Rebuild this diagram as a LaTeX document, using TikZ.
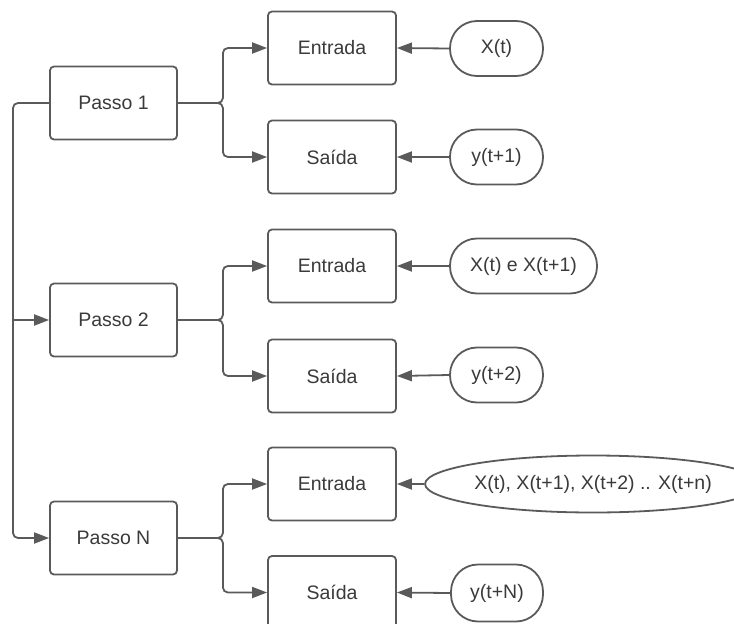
\documentclass[tikz,border=0pt]{standalone}
\usepackage{fontspec}
\setmainfont{Liberation Sans}
\usetikzlibrary{arrows.meta,shapes.geometric}
\definecolor{ln}{HTML}{5A5A5A}
\definecolor{tx}{HTML}{3A3A3A}
\begin{document}
\begin{tikzpicture}[x=1pt,y=-1pt,
  every node/.style={font=\fontsize{19.5}{22}\selectfont, text=tx},
  box/.style={draw=ln, line width=1.8pt, rounded corners=4pt, minimum width=127pt, minimum height=73pt, inner sep=0pt},
  pill/.style={draw=ln, line width=1.8pt, rounded corners=27pt, minimum height=55pt, inner sep=0pt},
  oval/.style={draw=ln, line width=1.8pt, ellipse, minimum width=282pt, minimum height=57pt, inner sep=0pt},
  conn/.style={draw=ln, line width=1.8pt, rounded corners=5pt},
  arr/.style={conn, -{Triangle[length=15pt,width=11pt]}}
]
\useasboundingbox (0,0) rectangle (734,624);
% step boxes
\node[box] (p1) at (113.5,103) {Passo 1};
\node[box] (p2) at (113.5,320) {Passo 2};
\node[box] (pN) at (113.5,538) {Passo N};
% entrada / saida boxes
\node[box, minimum width=128pt] (e1) at (332,48) {Entrada};
\node[box, minimum width=128pt] (s1) at (332,157) {Saída};
\node[box, minimum width=128pt] (e2) at (332,266) {Entrada};
\node[box, minimum width=128pt] (s2) at (332,376) {Saída};
\node[box, minimum width=128pt] (eN) at (332,484) {Entrada};
\node[box, minimum width=128pt] (sN) at (332,592.5) {Saída};
% inputs
\node[pill, minimum width=93pt] (x1) at (496.5,48.5) {X(t)};
\node[pill, minimum width=93pt] (y1) at (496.5,157) {y(t+1)};
\node[pill, minimum width=147pt] (x2) at (523.5,266) {X(t) e X(t+1)};
\node[pill, minimum width=93pt] (y2) at (496.5,375) {y(t+2)};
\node[oval] (xN) at (593,484) {X(t), X(t+1), X(t+2) .. X(t+n)};
\node[pill, minimum width=92pt, minimum height=57pt] (yN) at (497,593) {y(t+N)};
% left trunk
\coordinate (tr) at (13,320);
\draw[arr] (p1.west) -- (13,103) -- (13,538) -- (pN.west);
\draw[arr] (tr) -- (p2.west);
% branches
\foreach \p/\e/\s in {p1/e1/s1, p2/e2/s2, pN/eN/sN}{
  \draw[arr] (\p.east) -- ++(45,0) |- (\e.west);
  \draw[arr] (\p.east) -- ++(45,0) |- (\s.west);
}
% inputs to boxes
\foreach \a/\b in {x1/e1, y1/s1, x2/e2, y2/s2, xN/eN, yN/sN}{
  \draw[arr] (\a.west) -- (\b.east);
}
\end{tikzpicture}
\end{document}
